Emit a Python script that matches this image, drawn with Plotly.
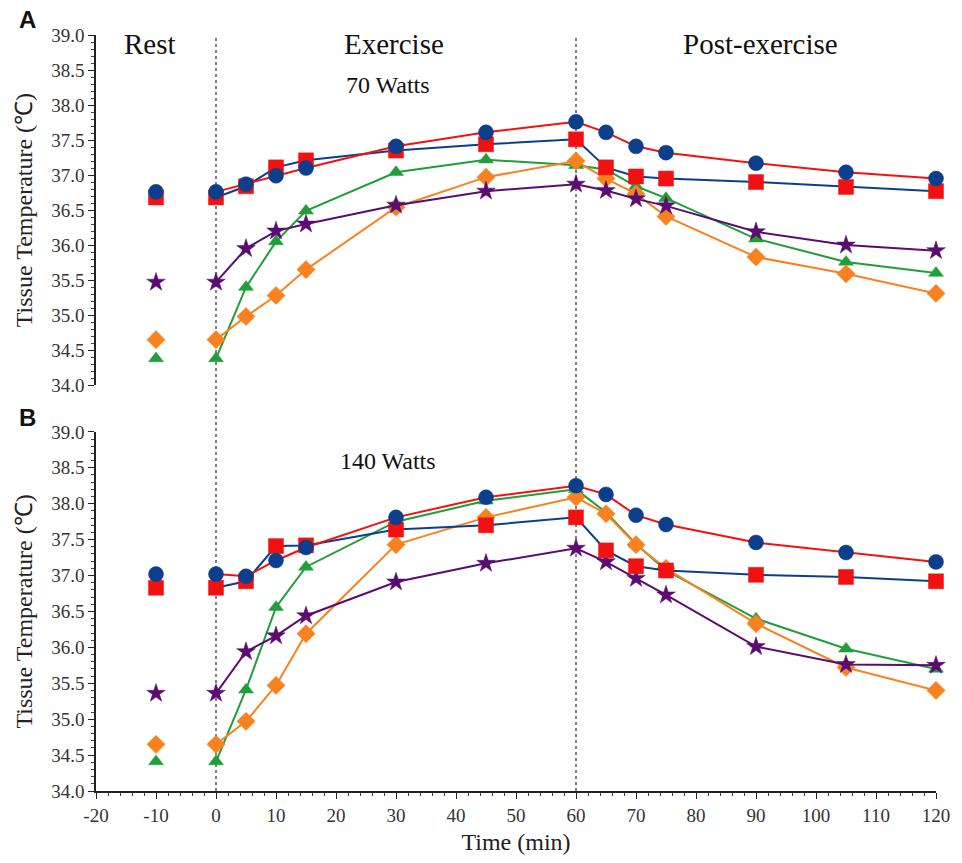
import plotly.graph_objects as go

# Sampling times (min); rest reading is taken at -10 min
rest_time = [-10]
times = [0, 5, 10, 15, 30, 45, 60, 65, 70, 75, 90, 105, 120]
x_ticks = list(range(-20, 121, 10))
y_ticks = [34.0, 34.5, 35.0, 35.5, 36.0, 36.5, 37.0, 37.5, 38.0, 38.5, 39.0]

# Panel A: 70 Watts
a_circle = [36.76, 36.76, 36.87, 36.99, 37.10, 37.41, 37.61, 37.76, 37.61, 37.41, 37.32, 37.17, 37.04, 36.95]
a_square = [36.68, 36.68, 36.84, 37.11, 37.21, 37.35, 37.44, 37.51, 37.11, 36.98, 36.95, 36.90, 36.83, 36.77]
a_triangle = [34.38, 34.38, 35.40, 36.05, 36.49, 37.04, 37.22, 37.14, 37.08, 36.84, 36.67, 36.09, 35.76, 35.60]
a_diamond = [34.65, 34.65, 34.98, 35.28, 35.65, 36.54, 36.97, 37.20, 36.95, 36.73, 36.41, 35.83, 35.59, 35.31]
a_star = [35.47, 35.47, 35.95, 36.20, 36.30, 36.57, 36.77, 36.87, 36.78, 36.66, 36.56, 36.19, 36.00, 35.92]

# Panel B: 140 Watts
b_circle = [37.02, 37.02, 36.99, 37.21, 37.39, 37.81, 38.09, 38.25, 38.13, 37.84, 37.71, 37.46, 37.32, 37.19]
b_square = [36.83, 36.83, 36.92, 37.41, 37.42, 37.64, 37.70, 37.81, 37.35, 37.13, 37.07, 37.01, 36.98, 36.92]
b_triangle = [34.41, 34.41, 35.41, 36.56, 37.12, 37.75, 38.04, 38.20, 37.88, 37.44, 37.07, 36.40, 35.98, 35.70]
b_diamond = [34.65, 34.65, 34.97, 35.47, 36.19, 37.43, 37.81, 38.09, 37.86, 37.43, 37.10, 36.33, 35.72, 35.40]
b_star = [35.36, 35.36, 35.94, 36.16, 36.44, 36.91, 37.17, 37.38, 37.19, 36.96, 36.73, 36.01, 35.76, 35.75]

BLUE = "#0b3f8c"
RED = "#f21111"
GREEN = "#1f9e3a"
ORANGE = "#f7821f"
PURPLE = "#5a0c70"

SERIF = "Liberation Serif"

# (marker symbol, marker colour, line colour, marker size)
styles = {
    "circle": ("circle", BLUE, RED, 15),
    "square": ("square", RED, BLUE, 15),
    "triangle": ("triangle-up", GREEN, GREEN, 13),
    "diamond": ("diamond", ORANGE, ORANGE, 14),
    "star": ("star", PURPLE, PURPLE, 14),
}

panels = [
    ("y", {"triangle": a_triangle, "diamond": a_diamond, "star": a_star,
           "square": a_square, "circle": a_circle}),
    ("y2", {"triangle": b_triangle, "diamond": b_diamond, "star": b_star,
            "square": b_square, "circle": b_circle}),
]

fig = go.Figure()
for yaxis, series in panels:
    xaxis = "x" if yaxis == "y" else "x2"
    for key in ["triangle", "diamond", "star", "square", "circle"]:
        vals = series[key]
        sym, mcol, lcol, size = styles[key]
        # resting value, unconnected
        fig.add_trace(go.Scatter(
            x=rest_time, y=vals[:1], mode="markers",
            marker=dict(symbol=sym, color=mcol, size=size,
                        line=dict(color=mcol, width=0.5)),
            xaxis=xaxis, yaxis=yaxis, showlegend=False, cliponaxis=False))
        # exercise and recovery time course
        fig.add_trace(go.Scatter(
            x=times, y=vals[1:], mode="lines+markers",
            line=dict(color=lcol, width=2),
            marker=dict(symbol=sym, color=mcol, size=size,
                        line=dict(color=mcol, width=0.5)),
            xaxis=xaxis, yaxis=yaxis, showlegend=False, cliponaxis=False))

W, H = 962, 863
L, R, T, B = 96, 15, 35, 68
plot_h = H - T - B
dom_a = [(H - B - 387) / plot_h, 1.0]
dom_b = [0.0, (H - B - 434) / plot_h]

yaxis_common = dict(
    range=[34, 39], tickvals=y_ticks, ticktext=[f"{v:.1f}" for v in y_ticks],
    showline=True, linecolor="#222", linewidth=1.5,
    ticks="outside", ticklen=6, tickcolor="#222", tickwidth=1.2,
    minor=dict(dtick=0.1, ticks="outside", ticklen=3, tickcolor="#444", tickwidth=1),
    showgrid=False, zeroline=False,
    tickfont=dict(family=SERIF, size=19, color="#333"),
    title=dict(text="Tissue Temperature (℃)", font=dict(family=SERIF, size=24, color="#222"),
               standoff=12),
)

fig.update_layout(
    width=W, height=H,
    margin=dict(l=L, r=R, t=T, b=B),
    paper_bgcolor="white", plot_bgcolor="white",
    xaxis=dict(range=[-20, 120], domain=[0, 1], anchor="y", visible=False),
    yaxis=dict(domain=dom_a, anchor="x", **yaxis_common),
    xaxis2=dict(range=[-20, 120], domain=[0, 1], anchor="y2",
                tickvals=x_ticks, ticktext=[str(v) for v in x_ticks],
                showline=True, linecolor="#222", linewidth=2,
                ticks="outside", ticklen=6, tickcolor="#222", tickwidth=1.2,
                minor=dict(dtick=2, ticks="outside", ticklen=3, tickcolor="#444", tickwidth=1),
                showgrid=False, zeroline=False,
                tickfont=dict(family=SERIF, size=19, color="#333"),
                title=dict(text="Time (min)", font=dict(family=SERIF, size=24, color="#222"),
                           standoff=8)),
    yaxis2=dict(domain=dom_b, anchor="x2", **yaxis_common),
)

# phase boundaries
for xv in [0, 60]:
    fig.add_shape(type="line", xref="x2", yref="paper", x0=xv, x1=xv, y0=0, y1=1,
                  line=dict(color="#333", width=1.2, dash="dot"), layer="below")


def px(xp):
    return (xp - L) / (W - L - R)


def py(yp):
    return (H - B - yp) / plot_h


labels = [
    ("Rest", 151, 44, 29), ("Exercise", 398, 44, 29), ("Post-exercise", 769, 44, 29),
    ("70 Watts", 392, 85, 24), ("140 Watts", 392, 463, 24),
]
for text, xp, yp, size in labels:
    fig.add_annotation(text=text, x=px(xp), y=py(yp), xref="paper", yref="paper",
                       showarrow=False, xanchor="center", yanchor="middle",
                       font=dict(family=SERIF, size=size, color="#111"))

for text, yp in [("A", 19), ("B", 420)]:
    fig.add_annotation(text=f"<b>{text}</b>", x=px(27), y=py(yp), xref="paper", yref="paper",
                       showarrow=False, xanchor="center", yanchor="middle",
                       font=dict(family="Liberation Sans", size=24, color="#111"))

fig.write_html("out.html")
